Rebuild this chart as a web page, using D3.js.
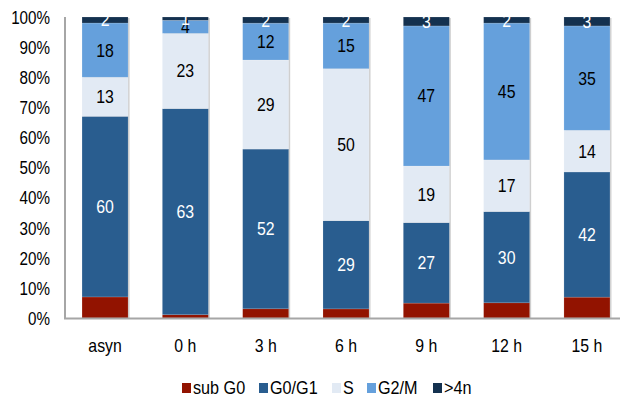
<!DOCTYPE html>
<html>
<head>
<meta charset="utf-8">
<script src="https://d3js.org/d3.v7.min.js"></script>
<style>
	body { margin: 0; background: #fff; }
	text { font-family: "Liberation Sans", Arial, sans-serif; }
</style>
</head>
<body>
<script>

// cell-cycle phase distribution, values as printed on the bars (chart is 100% stacked)
const categories = ["asyn", "0 h", "3 h", "6 h", "9 h", "12 h", "15 h"];
const phases = ["sub G0", "G0/G1", "S", "G2/M", ">4n"];
const subG0 = [7, 1, 3, 3, 5, 5, 7];
const g0g1  = [60, 63, 52, 29, 27, 30, 42];
const sPhase = [13, 23, 29, 50, 19, 17, 14];
const g2m   = [18, 4, 12, 15, 47, 45, 35];
const over4n = [2, 1, 2, 2, 3, 2, 3];
const yTicks = [0, 0.1, 0.2, 0.3, 0.4, 0.5, 0.6, 0.7, 0.8, 0.9, 1];

const colors = ["#921300", "#295d8f", "#e2eaf4", "#65a0dc", "#14314f"];
const labelColors = [null, "#fff", "#000", "#000", "#fff"];

const width = 620, height = 405;

const svg = d3.select("body")
	.append("svg")
	.attr("width", width)
	.attr("height", height);

// the original uses a narrow face; squeeze Liberation Sans horizontally
function place(sel, fx, fy, sx) {
	sel.attr("transform", (d, i) => "translate(" + fx(d, i) + "," + fy(d, i) + ") scale(" + sx + ",1)");
}

const rows = categories.map((c, i) => {
	const r = { cat: c };
	r[phases[0]] = subG0[i];
	r[phases[1]] = g0g1[i];
	r[phases[2]] = sPhase[i];
	r[phases[3]] = g2m[i];
	r[phases[4]] = over4n[i];
	return r;
});

const stack = d3.stack()
	.keys(phases)
	.offset(d3.stackOffsetExpand);
const series = stack(rows);

const x = d3.scaleBand()
	.domain(categories)
	.range([65, 627])
	.paddingInner(0.427)
	.paddingOuter(0.212);

const y = d3.scaleLinear()
	.domain([0, 1])
	.range([318, 17]);

// faint shadow on the right of each bar
svg.append("g")
	.selectAll("rect")
	.data(categories)
	.enter()
	.append("rect")
	.attr("x", d => x(d) + 1.5)
	.attr("y", y(1) + 1)
	.attr("width", x.bandwidth())
	.attr("height", y(0) - y(1) - 1)
	.attr("fill", "#cfcfcf");

const layer = svg.append("g")
	.selectAll("g")
	.data(series)
	.enter()
	.append("g")
	.attr("fill", (d, i) => colors[i]);

layer.selectAll("rect")
	.data(d => d)
	.enter()
	.append("rect")
	.attr("x", d => x(d.data.cat))
	.attr("y", d => y(d[1]))
	.attr("width", x.bandwidth())
	.attr("height", d => y(d[0]) - y(d[1]))
	.attr("stroke", "#ffffff")
	.attr("stroke-opacity", 0.25)
	.attr("stroke-width", 0.6);

// value labels (none on sub G0)
series.forEach((s, i) => {
	if (!labelColors[i]) return;
	svg.append("g")
		.selectAll("text")
		.data(s)
		.enter()
		.append("text")
		.call(place, d => x(d.data.cat) + x.bandwidth() / 2, d => (y(d[0]) + y(d[1])) / 2, 0.88)
		.attr("dy", "0.36em")
		.attr("text-anchor", "middle")
		.attr("fill", labelColors[i])
		.style("font-size", "18px")
		.text(d => d.data[s.key]);
});

// axes
svg.append("line")
	.attr("x1", 65).attr("x2", 65)
	.attr("y1", y(1)).attr("y2", y(0) + 1)
	.attr("stroke", "#a6a6a6")
	.attr("stroke-width", 2);

svg.append("line")
	.attr("x1", 64).attr("x2", 620)
	.attr("y1", y(0) + 0.5).attr("y2", y(0) + 0.5)
	.attr("stroke", "#a6a6a6")
	.attr("stroke-width", 2);

svg.append("g")
	.selectAll("text")
	.data(yTicks)
	.enter()
	.append("text")
	.call(place, () => 50, d => y(d), 0.8)
	.attr("dy", "0.36em")
	.attr("text-anchor", "end")
	.attr("fill", "#000")
	.style("font-size", "19px")
	.text(d3.format(".0%"));

svg.append("g")
	.selectAll("text")
	.data(categories)
	.enter()
	.append("text")
	.call(place, d => x(d) + x.bandwidth() / 2, () => 352, 0.88)
	.attr("text-anchor", "middle")
	.attr("fill", "#000")
	.style("font-size", "18px")
	.text(d => d);

// legend
const legendX = [182, 259, 332, 367, 433];
const legend = svg.append("g")
	.selectAll("g")
	.data(phases)
	.enter()
	.append("g")
	.attr("transform", (d, i) => "translate(" + legendX[i] + ",383)");

legend.append("rect")
	.attr("width", 9)
	.attr("height", 10)
	.attr("fill", (d, i) => colors[i]);

legend.append("text")
	.call(place, () => 11, () => 10.5, 0.9)
	.attr("fill", "#000")
	.style("font-size", "18px")
	.text(d => d);

</script>
</body>
</html>
